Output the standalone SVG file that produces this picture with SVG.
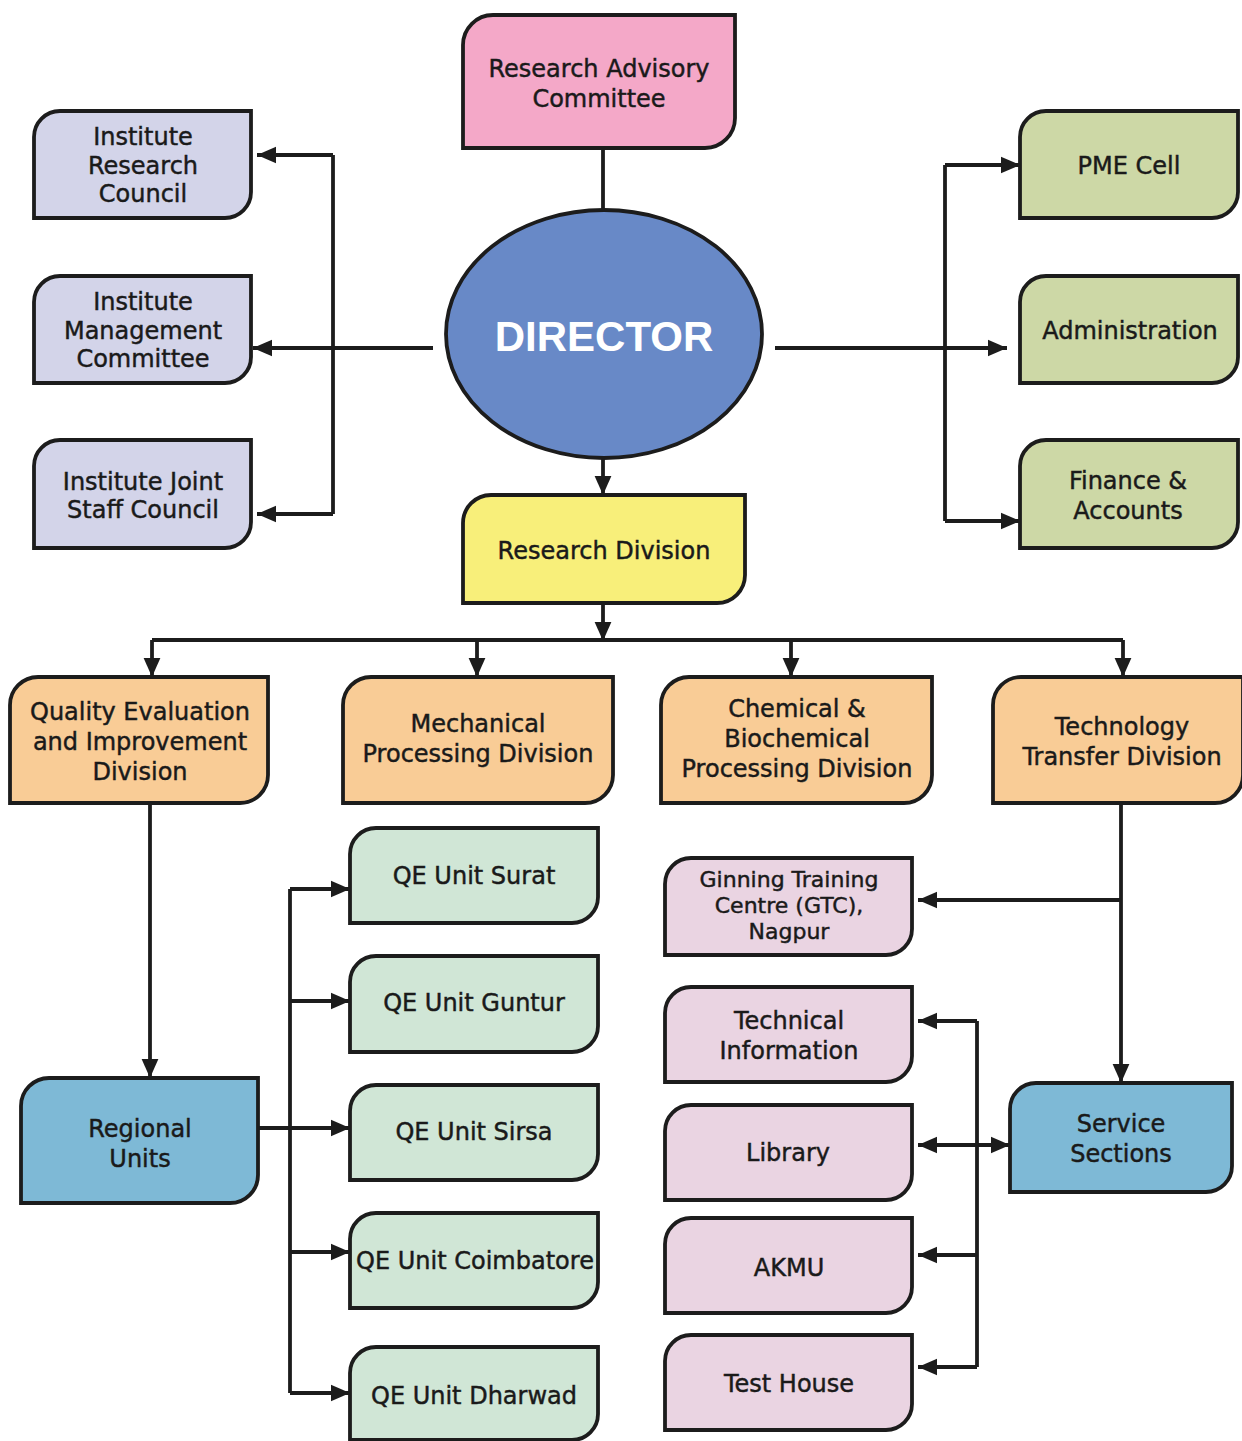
<svg xmlns="http://www.w3.org/2000/svg" width="1242" height="1441" viewBox="0 0 1242 1441">
<defs>
<style>
.box{stroke:#1c1c1c;stroke-width:3.8;}
.t{font-family:"DejaVu Sans","Verdana",sans-serif;font-size:24px;fill:#1a1a1a;stroke:#1a1a1a;stroke-width:0.45;text-anchor:middle;}
.s{font-size:22px;}
.c{fill:none;stroke:#1c1c1c;stroke-width:3.8;}
.a{fill:none;stroke:#1c1c1c;stroke-width:3.8;marker-end:url(#arr);}
.pink{fill:#F4A8C8}.lav{fill:#D3D4E9}.grn{fill:#CDD8A6}.yel{fill:#F8EF7A}.org{fill:#F9CC96}.blu{fill:#7EB9D6}.lgr{fill:#D0E6D6}.lpk{fill:#EAD4E2}
</style>
<marker id="arr" viewBox="0 0 10 10" refX="10" refY="5" markerWidth="19" markerHeight="19" markerUnits="userSpaceOnUse" orient="auto-start-reverse">
<path d="M0,0.6 L10,5 L0,9.4 z" fill="#1c1c1c"/>
</marker>
</defs>
<rect width="1242" height="1441" fill="#ffffff"/>

<g id="connectors">
<line class="c" x1="603" y1="148" x2="603" y2="210"/>
<line class="a" x1="603" y1="458" x2="603" y2="495"/>
<line class="a" x1="433" y1="348" x2="253" y2="348"/>
<polyline class="c" points="333,155 333,514"/>
<line class="a" x1="333" y1="155" x2="257" y2="155"/>
<line class="a" x1="333" y1="514" x2="257" y2="514"/>
<line class="a" x1="775" y1="348" x2="1007" y2="348"/>
<polyline class="c" points="945,165 945,521"/>
<line class="a" x1="945" y1="165" x2="1020" y2="165"/>
<line class="a" x1="945" y1="521" x2="1020" y2="521"/>
<line class="a" x1="603" y1="603" x2="603" y2="641"/>
<line class="c" x1="152" y1="640" x2="1123" y2="640"/>
<line class="a" x1="152" y1="640" x2="152" y2="677"/>
<line class="a" x1="477" y1="640" x2="477" y2="677"/>
<line class="a" x1="791" y1="640" x2="791" y2="677"/>
<line class="a" x1="1123" y1="640" x2="1123" y2="677"/>
<line class="a" x1="150" y1="803" x2="150" y2="1078"/>
<line class="a" x1="258" y1="1128" x2="350" y2="1128"/>
<polyline class="c" points="290,889 290,1393"/>
<line class="a" x1="290" y1="889" x2="350" y2="889"/>
<line class="a" x1="290" y1="1001" x2="350" y2="1001"/>
<line class="a" x1="290" y1="1252" x2="350" y2="1252"/>
<line class="a" x1="290" y1="1393" x2="350" y2="1393"/>
<line class="a" x1="1121" y1="803" x2="1121" y2="1083"/>
<line class="a" x1="1121" y1="900" x2="918" y2="900"/>
<line class="a" x1="918" y1="1145" x2="1010" y2="1145" style="marker-start:url(#arr)"/>
<polyline class="c" points="977,1021 977,1367"/>
<line class="a" x1="977" y1="1021" x2="918" y2="1021"/>
<line class="a" x1="977" y1="1255" x2="918" y2="1255"/>
<line class="a" x1="977" y1="1367" x2="918" y2="1367"/>
</g>

<g id="rac">
<path class="box pink" d="M463,45 A30,30 0 0 1 493,15 L735,15 L735,118 A30,30 0 0 1 705,148 L463,148 Z"/>
<text class="t" x="599" y="77">Research Advisory</text>
<text class="t" x="599" y="107">Committee</text>
</g>

<g id="director">
<ellipse cx="604" cy="334" rx="158" ry="124" fill="#6889C7" stroke="#1c1c1c" stroke-width="3.8"/>
<text x="604" y="351" font-family="'Liberation Sans',Arial,sans-serif" font-weight="bold" font-size="42" fill="#ffffff" text-anchor="middle">DIRECTOR</text>
</g>

<g id="irc">
<path class="box lav" d="M34,137 A26,26 0 0 1 60,111 L251,111 L251,192 A26,26 0 0 1 225,218 L34,218 Z"/>
<text class="t" x="143" y="145">Institute</text>
<text class="t" x="143" y="174">Research</text>
<text class="t" x="143" y="202">Council</text>
</g>
<g id="imc">
<path class="box lav" d="M34,302 A26,26 0 0 1 60,276 L251,276 L251,357 A26,26 0 0 1 225,383 L34,383 Z"/>
<text class="t" x="143" y="310">Institute</text>
<text class="t" x="143" y="339">Management</text>
<text class="t" x="143" y="367">Committee</text>
</g>
<g id="ijsc">
<path class="box lav" d="M34,466 A26,26 0 0 1 60,440 L251,440 L251,522 A26,26 0 0 1 225,548 L34,548 Z"/>
<text class="t" x="143" y="490">Institute Joint</text>
<text class="t" x="143" y="518">Staff Council</text>
</g>

<g id="pme">
<path class="box grn" d="M1020,137 A26,26 0 0 1 1046,111 L1238,111 L1238,192 A26,26 0 0 1 1212,218 L1020,218 Z"/>
<text class="t" x="1129" y="174">PME Cell</text>
</g>
<g id="admin">
<path class="box grn" d="M1020,302 A26,26 0 0 1 1046,276 L1238,276 L1238,357 A26,26 0 0 1 1212,383 L1020,383 Z"/>
<text class="t" x="1130" y="339">Administration</text>
</g>
<g id="finance">
<path class="box grn" d="M1020,466 A26,26 0 0 1 1046,440 L1238,440 L1238,522 A26,26 0 0 1 1212,548 L1020,548 Z"/>
<text class="t" x="1128" y="489">Finance &amp;</text>
<text class="t" x="1128" y="519">Accounts</text>
</g>

<g id="research-division">
<path class="box yel" d="M463,523 A28,28 0 0 1 491,495 L745,495 L745,575 A28,28 0 0 1 717,603 L463,603 Z"/>
<text class="t" x="604" y="559">Research Division</text>
</g>

<g id="qeid">
<path class="box org" d="M10,705 A28,28 0 0 1 38,677 L268,677 L268,775 A28,28 0 0 1 240,803 L10,803 Z"/>
<text class="t" x="140" y="720">Quality Evaluation</text>
<text class="t" x="140" y="750">and Improvement</text>
<text class="t" x="140" y="780">Division</text>
</g>
<g id="mpd">
<path class="box org" d="M343,705 A28,28 0 0 1 371,677 L613,677 L613,775 A28,28 0 0 1 585,803 L343,803 Z"/>
<text class="t" x="478" y="732">Mechanical</text>
<text class="t" x="478" y="762">Processing Division</text>
</g>
<g id="cbpd">
<path class="box org" d="M661,705 A28,28 0 0 1 689,677 L932,677 L932,775 A28,28 0 0 1 904,803 L661,803 Z"/>
<text class="t" x="797" y="717">Chemical &amp;</text>
<text class="t" x="797" y="747">Biochemical</text>
<text class="t" x="797" y="777">Processing Division</text>
</g>
<g id="ttd">
<path class="box org" d="M993,705 A28,28 0 0 1 1021,677 L1243,677 L1243,775 A28,28 0 0 1 1215,803 L993,803 Z"/>
<text class="t" x="1122" y="735">Technology</text>
<text class="t" x="1122" y="765">Transfer Division</text>
</g>

<g id="regional-units">
<path class="box blu" d="M21,1106 A28,28 0 0 1 49,1078 L258,1078 L258,1175 A28,28 0 0 1 230,1203 L21,1203 Z"/>
<text class="t" x="140" y="1137">Regional</text>
<text class="t" x="140" y="1167">Units</text>
</g>

<g id="qe-surat">
<path class="box lgr" d="M350,854 A26,26 0 0 1 376,828 L598,828 L598,897 A26,26 0 0 1 572,923 L350,923 Z"/>
<text class="t" x="474" y="884">QE Unit Surat</text>
</g>
<g id="qe-guntur">
<path class="box lgr" d="M350,982 A26,26 0 0 1 376,956 L598,956 L598,1026 A26,26 0 0 1 572,1052 L350,1052 Z"/>
<text class="t" x="474" y="1011">QE Unit Guntur</text>
</g>
<g id="qe-sirsa">
<path class="box lgr" d="M350,1111 A26,26 0 0 1 376,1085 L598,1085 L598,1154 A26,26 0 0 1 572,1180 L350,1180 Z"/>
<text class="t" x="474" y="1140">QE Unit Sirsa</text>
</g>
<g id="qe-coimbatore">
<path class="box lgr" d="M350,1239 A26,26 0 0 1 376,1213 L598,1213 L598,1282 A26,26 0 0 1 572,1308 L350,1308 Z"/>
<text class="t" x="475" y="1269">QE Unit Coimbatore</text>
</g>
<g id="qe-dharwad">
<path class="box lgr" d="M350,1373 A26,26 0 0 1 376,1347 L598,1347 L598,1414 A26,26 0 0 1 572,1440 L350,1440 Z"/>
<text class="t" x="474" y="1404">QE Unit Dharwad</text>
</g>

<g id="gtc">
<path class="box lpk" d="M665,884 A26,26 0 0 1 691,858 L912,858 L912,929 A26,26 0 0 1 886,955 L665,955 Z"/>
<text class="t s" x="789" y="887">Ginning Training</text>
<text class="t s" x="789" y="913">Centre (GTC),</text>
<text class="t s" x="789" y="939">Nagpur</text>
</g>
<g id="tech-info">
<path class="box lpk" d="M665,1013 A26,26 0 0 1 691,987 L912,987 L912,1056 A26,26 0 0 1 886,1082 L665,1082 Z"/>
<text class="t" x="789" y="1029">Technical</text>
<text class="t" x="789" y="1059">Information</text>
</g>
<g id="library">
<path class="box lpk" d="M665,1131 A26,26 0 0 1 691,1105 L912,1105 L912,1174 A26,26 0 0 1 886,1200 L665,1200 Z"/>
<text class="t" x="788" y="1161">Library</text>
</g>
<g id="akmu">
<path class="box lpk" d="M665,1244 A26,26 0 0 1 691,1218 L912,1218 L912,1287 A26,26 0 0 1 886,1313 L665,1313 Z"/>
<text class="t" x="789" y="1276">AKMU</text>
</g>
<g id="test-house">
<path class="box lpk" d="M665,1361 A26,26 0 0 1 691,1335 L912,1335 L912,1404 A26,26 0 0 1 886,1430 L665,1430 Z"/>
<text class="t" x="789" y="1392">Test House</text>
</g>

<g id="service-sections">
<path class="box blu" d="M1010,1109 A26,26 0 0 1 1036,1083 L1232,1083 L1232,1166 A26,26 0 0 1 1206,1192 L1010,1192 Z"/>
<text class="t" x="1121" y="1132">Service</text>
<text class="t" x="1121" y="1162">Sections</text>
</g>
</svg>
